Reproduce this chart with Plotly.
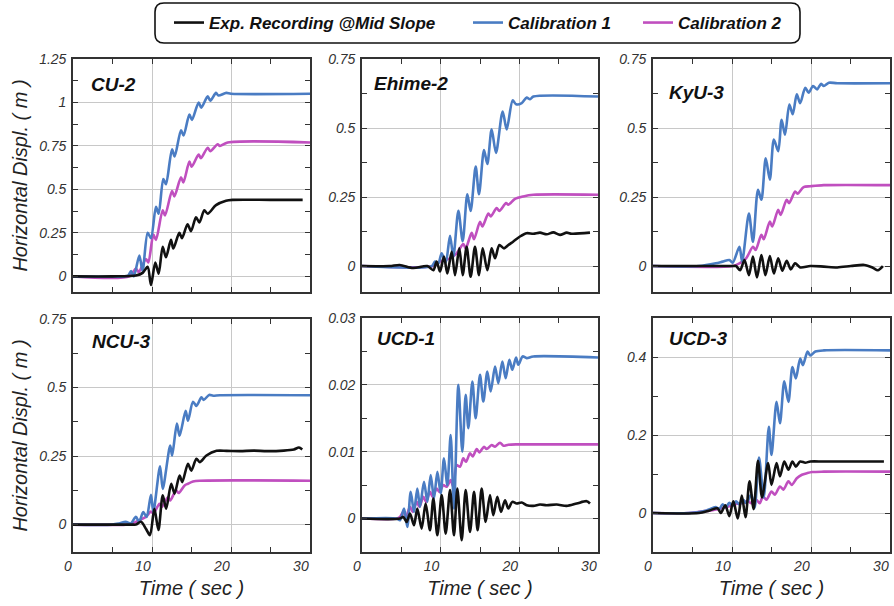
import plotly.graph_objects as go

W, H = 894, 606

# ---------------- data ----------------
panel_names = ["CU-2", "Ehime-2", "KyU-3", "NCU-3", "UCD-1", "UCD-3"]
series_names = ["Exp. Recording @Mid Slope", "Calibration 1", "Calibration 2"]

# CU-2
cu2_exp_t = [0, 5, 7.97, 8.82, 9.45, 9.87, 10.42, 10.84, 11.35, 11.77, 12.4, 12.7, 13.46, 13.8, 14.5, 14.94, 15.57, 15.99, 16.62, 17.05, 18.1, 19.37, 20.2, 25, 29.07]
cu2_exp_v = [0, 0, 0.005, 0.02, 0.055, -0.05, 0.08, 0.015, 0.17, 0.11, 0.21, 0.16, 0.25, 0.22, 0.3, 0.26, 0.34, 0.31, 0.38, 0.36, 0.41, 0.435, 0.44, 0.44, 0.44]
cu2_c1_t = [0, 6.5, 7.0, 7.35, 7.7, 8.4, 8.8, 9.45, 9.87, 10.5, 10.84, 11.43, 11.77, 12.53, 12.87, 13.67, 14.0, 14.73, 15.06, 15.9, 16.24, 17.05, 17.38, 18.1, 18.4, 19.4, 20, 30]
cu2_c1_v = [0, 0, 0.005, 0.03, 0.0, 0.12, 0.03, 0.25, 0.22, 0.40, 0.36, 0.56, 0.53, 0.73, 0.69, 0.84, 0.81, 0.93, 0.90, 1.0, 0.97, 1.035, 1.01, 1.055, 1.04, 1.055, 1.05, 1.05]
cu2_c2_t = [0, 7.13, 7.97, 8.31, 9.24, 9.54, 10.17, 10.5, 11.35, 11.65, 12.53, 12.83, 13.67, 13.97, 14.73, 15.02, 15.9, 16.2, 17.05, 17.38, 18.31, 18.6, 19.58, 30]
cu2_c2_v = [0, 0, 0.045, 0.025, 0.10, 0.08, 0.24, 0.21, 0.38, 0.35, 0.49, 0.46, 0.57, 0.54, 0.66, 0.63, 0.70, 0.68, 0.74, 0.72, 0.76, 0.75, 0.77, 0.77]

# Ehime-2
eh_exp_t = [0, 3.5, 4.8, 6.5, 8.3, 9.07, 9.49, 9.92, 10.42, 10.85, 11.4, 11.82, 12.37, 12.8, 13.3, 13.81, 14.36, 14.87, 15.34, 15.93, 16.48, 16.91, 17.46, 18.05, 18.6, 19.24, 20.08, 20.93, 21.78, 22.63, 23.47, 24.32, 25.17, 26.02, 26.65, 28.98]
eh_exp_v = [0, 0, 0.004, -0.007, 0.0, -0.015, 0.016, -0.02, 0.034, -0.027, 0.052, -0.033, 0.064, -0.033, 0.07, -0.039, 0.07, -0.033, 0.064, -0.015, 0.064, 0.028, 0.076, 0.064, 0.076, 0.089, 0.107, 0.119, 0.117, 0.121, 0.115, 0.122, 0.113, 0.121, 0.117, 0.121]
eh_c1_t = [0, 8.86, 9.28, 9.7, 10.13, 10.64, 11.19, 11.61, 12.25, 12.8, 13.39, 13.81, 14.45, 14.87, 15.51, 15.93, 16.48, 17.03, 17.88, 18.39, 19.15, 19.58, 20.3, 20.93, 21.36, 21.78, 30]
eh_c1_v = [0, 0, 0.016, 0.01, 0.046, 0.012, 0.11, 0.034, 0.20, 0.09, 0.26, 0.20, 0.36, 0.26, 0.42, 0.37, 0.495, 0.41, 0.56, 0.495, 0.60, 0.586, 0.59, 0.61, 0.604, 0.614, 0.614]
eh_c2_t = [0, 9.07, 9.92, 11.19, 12.03, 12.88, 13.18, 13.94, 14.24, 15.0, 15.3, 16.06, 16.36, 17.12, 17.46, 18.31, 18.6, 19.45, 20.5, 21.78, 30]
eh_c2_v = [0, 0, 0.016, 0.028, 0.046, 0.08, 0.064, 0.12, 0.097, 0.16, 0.143, 0.19, 0.18, 0.21, 0.2, 0.228, 0.222, 0.243, 0.252, 0.258, 0.258]

# KyU-3
ky_exp_t = [0, 10.09, 10.51, 11.03, 11.58, 12.14, 12.65, 13.16, 13.72, 14.23, 14.79, 15.3, 15.85, 16.37, 16.92, 17.44, 17.99, 18.63, 19.91, 21.62, 23.33, 25.04, 26.75, 27.82, 28.46, 29.1]
ky_exp_v = [0, 0, 0.0, -0.015, 0.022, -0.033, 0.034, -0.041, 0.04, -0.033, 0.036, -0.027, 0.028, -0.017, 0.019, -0.012, 0.01, -0.005, 0.0, -0.002, -0.005, 0.0, 0.004, -0.006, -0.015, 0.0]
ky_c1_t = [0, 5.81, 7.95, 8.8, 9.66, 10.09, 10.94, 11.28, 12.14, 12.65, 13.29, 13.72, 14.27, 14.79, 15.3, 15.85, 16.28, 16.71, 17.26, 17.69, 18.2, 18.63, 19.27, 19.7, 20.26, 20.77, 21.28, 21.62, 22.26, 23.33, 30]
ky_c1_v = [0, 0, 0.01, 0.016, 0.022, 0.012, 0.07, 0.016, 0.19, 0.088, 0.276, 0.24, 0.39, 0.313, 0.458, 0.416, 0.53, 0.476, 0.585, 0.55, 0.622, 0.59, 0.646, 0.628, 0.652, 0.64, 0.66, 0.652, 0.664, 0.662, 0.662]
ky_c2_t = [0, 10.09, 10.94, 11.79, 12.65, 12.99, 13.72, 14.02, 14.79, 15.09, 15.85, 16.15, 16.92, 17.22, 17.99, 18.29, 19.06, 19.91, 21.62, 30]
ky_c2_v = [0, 0, 0.01, 0.028, 0.07, 0.058, 0.113, 0.097, 0.161, 0.143, 0.204, 0.185, 0.24, 0.228, 0.27, 0.262, 0.286, 0.289, 0.293, 0.293]

# NCU-3
ncu_exp_t = [0, 7.53, 7.96, 8.6, 9.23, 9.74, 10.3, 10.81, 11.36, 11.79, 12.43, 12.85, 13.49, 13.83, 14.55, 14.98, 15.62, 16.04, 16.89, 18.17, 19.45, 21.15, 22.85, 24.55, 26.68, 27.96, 28.6, 29.02]
ncu_exp_v = [0, 0, 0.0, 0.01, -0.015, -0.039, 0.058, -0.02, 0.107, 0.058, 0.149, 0.113, 0.179, 0.155, 0.222, 0.197, 0.24, 0.228, 0.252, 0.269, 0.269, 0.268, 0.27, 0.268, 0.27, 0.274, 0.281, 0.274]
ncu_c1_t = [0, 4.98, 5.83, 6.68, 7.32, 7.96, 8.38, 8.89, 9.32, 9.87, 10.17, 11.02, 11.36, 12.3, 12.55, 13.15, 13.49, 14.26, 14.55, 15.19, 15.62, 16.26, 16.55, 17.23, 17.74, 18.6, 30]
ncu_c1_v = [0, 0, 0.004, 0.01, 0.004, 0.028, 0.01, 0.046, 0.028, 0.109, 0.046, 0.213, 0.13, 0.288, 0.252, 0.369, 0.324, 0.415, 0.379, 0.448, 0.433, 0.464, 0.455, 0.473, 0.47, 0.472, 0.472]
ncu_c2_t = [0, 6.68, 7.53, 8.38, 9.23, 9.87, 10.17, 10.94, 11.23, 12.0, 12.3, 13.06, 13.36, 14.13, 14.55, 15.19, 16.04, 30]
ncu_c2_v = [0, 0, 0.004, 0.016, 0.028, 0.048, 0.04, 0.076, 0.064, 0.1, 0.088, 0.125, 0.115, 0.143, 0.149, 0.157, 0.16, 0.16]

# UCD-1
u1_exp_t = [0, 4.83, 5.25, 5.68, 6.1, 6.61, 7.03, 7.58, 8.09, 8.64, 9.07, 9.58, 10.13, 10.64, 11.19, 11.69, 12.12, 12.67, 13.18, 13.73, 14.24, 14.7, 15.21, 15.72, 16.27, 16.69, 17.2, 17.67, 18.18, 18.6, 19.11, 19.66, 20.3, 20.93, 21.78, 22.63, 23.47, 24.75, 26.02, 27.29, 28.56, 28.98]
u1_exp_v = [0, 0, 0.00025, -0.0005, 0.00075, -0.001, 0.0015, -0.0015, 0.00225, -0.00175, 0.003, -0.0025, 0.0035, -0.00225, 0.00425, -0.0025, 0.0045, -0.00325, 0.00425, -0.002, 0.004, -0.00175, 0.0045, -0.0005, 0.0035, 0.0005, 0.00325, 0.001, 0.00275, 0.0015, 0.0025, 0.00225, 0.0024, 0.002, 0.0019, 0.0021, 0.002, 0.0021, 0.0019, 0.00225, 0.0026, 0.00225]
u1_c1_t = [0, 4.41, 4.83, 5.34, 5.76, 6.19, 6.61, 7.03, 7.37, 7.88, 8.31, 8.73, 9.15, 9.58, 10.0, 10.42, 10.85, 11.27, 11.69, 12.25, 12.75, 13.18, 13.52, 14.03, 14.45, 15.0, 15.42, 15.93, 16.36, 16.91, 17.33, 17.84, 18.26, 18.73, 19.11, 19.58, 19.87, 20.42, 20.93, 21.78, 30]
u1_c1_v = [0, 0, -0.00025, 0.0015, -0.00125, 0.004, 0.001, 0.0045, 0.00175, 0.0055, 0.0025, 0.0065, 0.003, 0.007, 0.00375, 0.009, 0.005, 0.0125, 0.0015, 0.02, 0.01, 0.0185, 0.0135, 0.0205, 0.015, 0.0215, 0.0175, 0.022, 0.019, 0.02275, 0.02025, 0.0235, 0.021, 0.02375, 0.02225, 0.0241, 0.023, 0.02425, 0.024, 0.02425, 0.0241]
u1_c2_t = [0, 4.41, 4.83, 5.25, 5.59, 6.1, 6.44, 6.95, 7.29, 7.8, 8.14, 8.64, 8.98, 9.49, 9.83, 10.34, 10.76, 11.27, 11.61, 12.03, 12.46, 12.88, 13.22, 13.73, 14.07, 14.58, 14.92, 15.51, 15.85, 16.48, 16.91, 17.54, 17.97, 18.6, 19.66, 21.78, 30]
u1_c2_v = [0, 0, 0.00025, 0.001, 0.00025, 0.00175, 0.001, 0.0025, 0.00175, 0.00325, 0.0025, 0.004, 0.00325, 0.0045, 0.004, 0.005, 0.00475, 0.00575, 0.00475, 0.008, 0.00775, 0.009, 0.0085, 0.00975, 0.0093, 0.0104, 0.0099, 0.01075, 0.0104, 0.011, 0.01075, 0.01135, 0.0109, 0.01105, 0.0111, 0.0111, 0.0111]

# UCD-3
u3_exp_t = [0, 5.81, 7.09, 8.16, 8.59, 9.15, 9.66, 10.17, 10.73, 11.24, 11.71, 12.22, 12.74, 13.29, 13.8, 14.57, 15.0, 15.64, 16.07, 16.62, 17.14, 17.65, 18.08, 18.63, 19.27, 19.91, 21.62, 25.9, 29.23]
u3_exp_v = [0, 0, 0.006, 0.012, 0.0, 0.02, -0.008, 0.03, -0.014, 0.045, -0.011, 0.081, 0.01, 0.134, 0.04, 0.128, 0.072, 0.128, 0.094, 0.132, 0.111, 0.132, 0.119, 0.132, 0.129, 0.132, 0.132, 0.132, 0.132]
u3_c1_t = [0, 4.53, 6.67, 7.95, 8.38, 8.8, 9.23, 9.66, 10.09, 10.51, 10.94, 11.45, 11.79, 12.44, 12.86, 13.42, 14.02, 14.66, 15.0, 15.64, 16.07, 16.62, 17.14, 17.65, 18.08, 18.63, 18.97, 19.57, 19.91, 20.56, 21.62, 30]
u3_c1_v = [0, 0, 0.006, 0.015, 0.01, 0.022, 0.015, 0.026, 0.018, 0.03, 0.022, 0.034, 0.025, 0.047, 0.013, 0.142, 0.04, 0.221, 0.149, 0.285, 0.23, 0.338, 0.285, 0.374, 0.345, 0.396, 0.379, 0.414, 0.404, 0.414, 0.417, 0.417]
u3_c2_t = [0, 4.53, 5.81, 7.09, 7.95, 8.8, 9.66, 10.51, 11.37, 12.01, 12.44, 13.08, 13.5, 13.93, 14.36, 15.0, 15.43, 16.07, 16.5, 17.14, 17.56, 18.2, 18.85, 19.49, 20.13, 21.62, 30]
u3_c2_v = [0, 0, 0.003, 0.006, 0.009, 0.013, 0.017, 0.023, 0.0255, 0.031, 0.025, 0.034, 0.025, 0.043, 0.034, 0.055, 0.047, 0.068, 0.06, 0.081, 0.072, 0.089, 0.098, 0.102, 0.105, 0.106, 0.106]

y_ranges = [[-0.09, 1.25], [-0.094, 0.75], [-0.094, 0.75], [-0.1, 0.75], [-0.005, 0.03], [-0.1, 0.5]]
y_dticks = [0.25, 0.25, 0.25, 0.25, 0.01, 0.2]
y_minor = [0.125, 0.125, 0.125, 0.125, 0.005, 0.1]

panels = [
    [(cu2_exp_t, cu2_exp_v), (cu2_c1_t, cu2_c1_v), (cu2_c2_t, cu2_c2_v)],
    [(eh_exp_t, eh_exp_v), (eh_c1_t, eh_c1_v), (eh_c2_t, eh_c2_v)],
    [(ky_exp_t, ky_exp_v), (ky_c1_t, ky_c1_v), (ky_c2_t, ky_c2_v)],
    [(ncu_exp_t, ncu_exp_v), (ncu_c1_t, ncu_c1_v), (ncu_c2_t, ncu_c2_v)],
    [(u1_exp_t, u1_exp_v), (u1_c1_t, u1_c1_v), (u1_c2_t, u1_c2_v)],
    [(u3_exp_t, u3_exp_v), (u3_c1_t, u3_c1_v), (u3_c2_t, u3_c2_v)],
]

# ---------------- styling / layout ----------------
colors = ["#111111", "#4a7cc3", "#c04fbf"]
# pixel boxes (left, right, top, bottom)
boxes = [(73, 310, 59, 292), (362, 598, 59, 292), (653, 890, 59, 292),
         (73, 310, 319, 552), (362, 598, 318, 552), (653, 890, 318, 552)]
label_pos = [(89, 85), (372, 83), (667, 92), (90, 342), (375, 338), (667, 338)]
legend_x = [169, 468, 638]   # left edge of each legend entry (px)
legend_ids = ["legend", "legend2", "legend3"]

FONT = "Liberation Sans"
tickfont = dict(family=FONT, size=14, color="#333333", style="italic")
titlefont = dict(family=FONT, size=20, color="#222222", style="italic")
legfont = dict(family=FONT, size=17, color="#111111", weight="bold", style="italic")

fig = go.Figure()
draw_order = [2, 1, 0]
for p, series in enumerate(panels):
    ax = "" if p == 0 else str(p + 1)
    for s in draw_order:
        t, v = series[s]
        fig.add_trace(go.Scatter(
            x=t, y=v, mode="lines", name=series_names[s],
            line=dict(color=colors[s], width=2.6, shape="spline", smoothing=0.8),
            xaxis="x" + ax, yaxis="y" + ax,
            legend=legend_ids[s], legendgroup=series_names[s], showlegend=(p == 0),
        ))

layout = dict(
    width=W, height=H, margin=dict(l=0, r=0, t=0, b=0, autoexpand=False),
    paper_bgcolor="white", plot_bgcolor="white",
    showlegend=True,
)
for s in range(3):
    layout[legend_ids[s]] = dict(orientation="h", x=legend_x[s] / W, xanchor="left",
                                 y=1 - 23 / H, yanchor="middle",
                                 bgcolor="rgba(0,0,0,0)", borderwidth=0, font=legfont)

for p in range(6):
    l, r, t, b = boxes[p]
    ax = "" if p == 0 else str(p + 1)
    bottom_row = p >= 3
    xa = dict(domain=[l / W, r / W], range=[0, 30], anchor="y" + ax, automargin=False,
              tick0=0, dtick=10, ticks="inside", ticklen=5, tickcolor="#333", tickwidth=1,
              minor=dict(dtick=5, ticks="inside", ticklen=5, tickcolor="#333", showgrid=False),
              showgrid=True, gridcolor="#c8c8c8", gridwidth=1, zeroline=False,
              showline=True, linecolor="#333", linewidth=1.6, mirror="ticks",
              showticklabels=bottom_row, tickfont=tickfont,
              ticklabelposition="outside left", ticklabeloverflow="allow")
    if bottom_row:
        xa["title"] = dict(text="Time ( sec )", font=titlefont, standoff=8)
    ya = dict(domain=[1 - b / H, 1 - t / H], range=y_ranges[p], anchor="x" + ax, automargin=False,
              tick0=0, dtick=y_dticks[p], ticks="inside", ticklen=5, tickcolor="#333", tickwidth=1,
              minor=dict(dtick=y_minor[p], ticks="inside", ticklen=5, tickcolor="#333", showgrid=False),
              showgrid=True, gridcolor="#c8c8c8", gridwidth=1, zeroline=False,
              showline=True, linecolor="#333", linewidth=1.6, mirror="ticks",
              tickfont=tickfont, ticklabelstandoff=2, ticklabeloverflow="allow")
    if p in (0, 3):
        ya["title"] = dict(text="Horizontal Displ. ( m )", font=titlefont, standoff=6)
    layout["xaxis" + ax] = xa
    layout["yaxis" + ax] = ya

annotations = []
for p in range(6):
    x, y = label_pos[p]
    annotations.append(dict(text=panel_names[p], xref="paper", yref="paper",
                            x=x / W, y=1 - y / H, xanchor="left", yanchor="middle", showarrow=False,
                            font=dict(family=FONT, size=19, color="#111111", weight="bold", style="italic")))
layout["annotations"] = annotations

# rounded legend frame
x0, x1, yt, yb = 155 / W, 800 / W, 1 - 3 / H, 1 - 43 / H
rx, ry = 9 / W, 9 / H
path = (f"M {x0+rx},{yt} L {x1-rx},{yt} Q {x1},{yt} {x1},{yt-ry} L {x1},{yb+ry} Q {x1},{yb} {x1-rx},{yb} "
        f"L {x0+rx},{yb} Q {x0},{yb} {x0},{yb+ry} L {x0},{yt-ry} Q {x0},{yt} {x0+rx},{yt} Z")
layout["shapes"] = [dict(type="path", path=path, xref="paper", yref="paper",
                         line=dict(color="#111111", width=1.6), fillcolor="rgba(0,0,0,0)")]

fig.update_layout(**layout)
fig.write_html("out.html", config={"displayModeBar": False},
               post_script="document.body.style.margin='0';document.body.style.overflow='hidden';")
